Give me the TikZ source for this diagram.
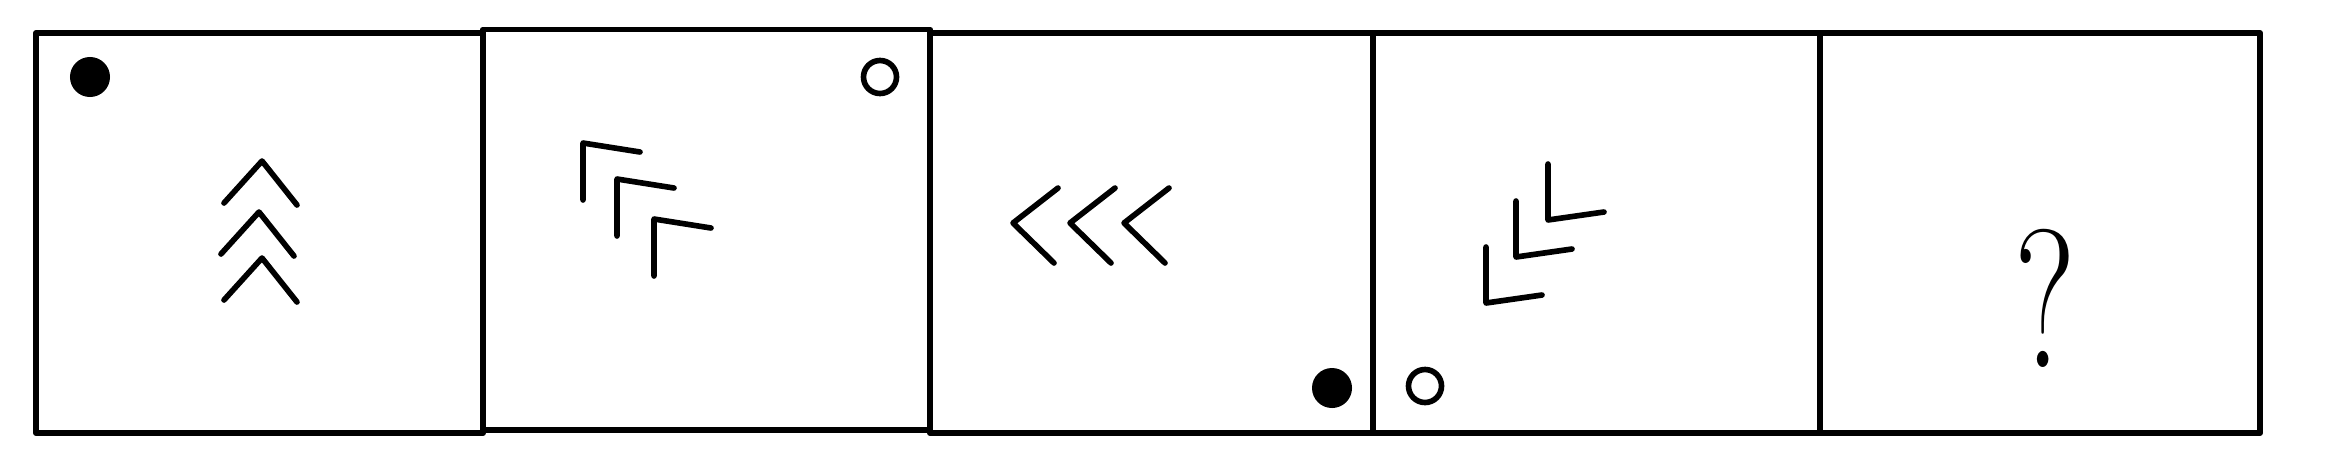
\documentclass[tikz,border=0pt]{standalone}
\usepackage{tikz}
\usetikzlibrary{positioning}
\usepackage{xcolor}

\tikzset{
    panel/.style={draw, line width=1.7pt, line join=round},
    glyph/.style={line width=1.6pt, line cap=round, line join=round},
    fulldot/.style={circle, fill=black, minimum size=0.40cm, inner sep=0pt},
    opendot/.style={circle, draw, line width=1.6pt, minimum size=0.33cm, inner sep=0pt}
}

\begin{document}
\begin{tikzpicture}[x=0.01cm, y=-0.01cm]
    \useasboundingbox (0,0) rectangle (2328,472);

    % Panels
    \foreach \xa/\xb/\ya/\yb in {36/483/33/433, 483/930/29.5/430, 930/1373/33/433, 1373/1820/33/433, 1820/2260/33/433} {
        \draw[panel] (\xa,\ya) rectangle (\xb,\yb);
    }

    % Panel 1: dot and chevrons pointing up
    \node[fulldot] (dotA) at (90,77) {};
    \foreach \dx/\dy in {0/0, -3/51, 0/97} {
        \draw[glyph, shift={(\dx,\dy)}] (224,203) -- (262,161) -- (297,205);
    }

    % Panel 2: ring and corners pointing up-left
    \node[opendot] (ringB) at (880,77) {};
    \foreach \dx/\dy in {0/0, 34/36, 71/76} {
        \draw[glyph, shift={(\dx,\dy)}] (583,200) -- (583,143) -- (640,152);
    }

    % Panel 3: chevrons pointing left and dot
    \foreach \dx in {0, 57, 111} {
        \draw[glyph, shift={(\dx,0)}] (1058,188) -- (1013,223) -- (1054,263);
    }
    \node[fulldot] (dotC) at (1332,388) {};

    % Panel 4: corners pointing down-left and ring
    \foreach \dx/\dy in {0/0, 30/-46, 62/-83} {
        \draw[glyph, shift={(\dx,\dy)}] (1486,247) -- (1486,303) -- (1542,295);
    }
    \node[opendot] (ringD) at (1425,386) {};

    % Panel 5: question
    \node[inner sep=0pt, xscale=0.72] (quest) at (2045,298) {\fontsize{56}{60}\selectfont ?};
\end{tikzpicture}
\end{document}
